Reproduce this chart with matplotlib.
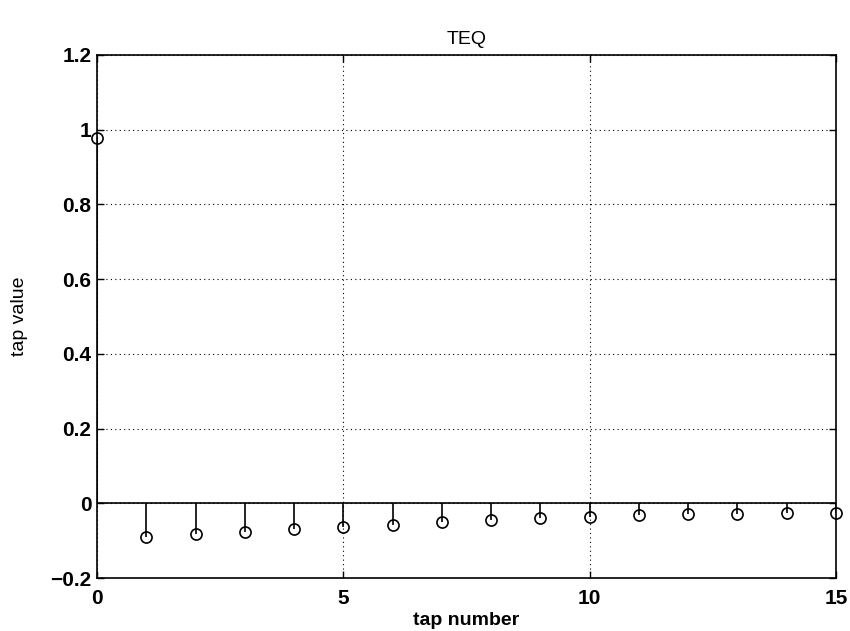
import matplotlib
matplotlib.use("Agg")
import matplotlib.pyplot as plt
import numpy as np

taps = list(range(16))
values = [0.978, -0.089, -0.083, -0.076, -0.070, -0.064, -0.057, -0.051,
          -0.045, -0.040, -0.036, -0.031, -0.030, -0.029, -0.027, -0.027]
xticks = [0, 5, 10, 15]
yticks = [-0.2, 0, 0.2, 0.4, 0.6, 0.8, 1.0, 1.2]
ytick_labels = ["\u22120.2", "0", "0.2", "0.4", "0.6", "0.8", "1", "1.2"]

plt.rcParams['font.family'] = ['Liberation Sans', 'DejaVu Sans']

fig = plt.figure(figsize=(8.5, 6.31), dpi=100)
ax = fig.add_axes([97/850, 1 - 578/631, (836-97)/850, (578-55)/631])

ax.axhline(0, color='black', lw=1.2, zorder=2)
ax.vlines(taps, 0, values, color='black', lw=1.2, zorder=3)
ax.plot(taps, values, 'o', mfc='none', mec='black', ms=8, mew=1.2, zorder=4, clip_on=False)

ax.set_xlim(0, 15)
ax.set_ylim(-0.2, 1.2)
ax.set_xticks(xticks)
ax.set_yticks(yticks)
ax.set_yticklabels(ytick_labels)
ax.grid(True, linestyle=(0, (1, 3)), color='black', lw=0.8)
ax.tick_params(direction='in', length=5, labelsize=15, width=1, top=True, right=True)
ax.tick_params(axis='x', pad=8)
ax.tick_params(axis='y', pad=4)
for lab in ax.get_xticklabels() + ax.get_yticklabels():
    lab.set_fontweight('bold')
for s in ax.spines.values():
    s.set_linewidth(1.2)

ax.set_title("TEQ", fontsize=14, pad=8)
ax.set_xlabel("tap number", fontsize=14, fontweight='bold', labelpad=3)
ax.set_ylabel("tap value", fontsize=14, labelpad=16)

fig.savefig("out.png", dpi=100)
